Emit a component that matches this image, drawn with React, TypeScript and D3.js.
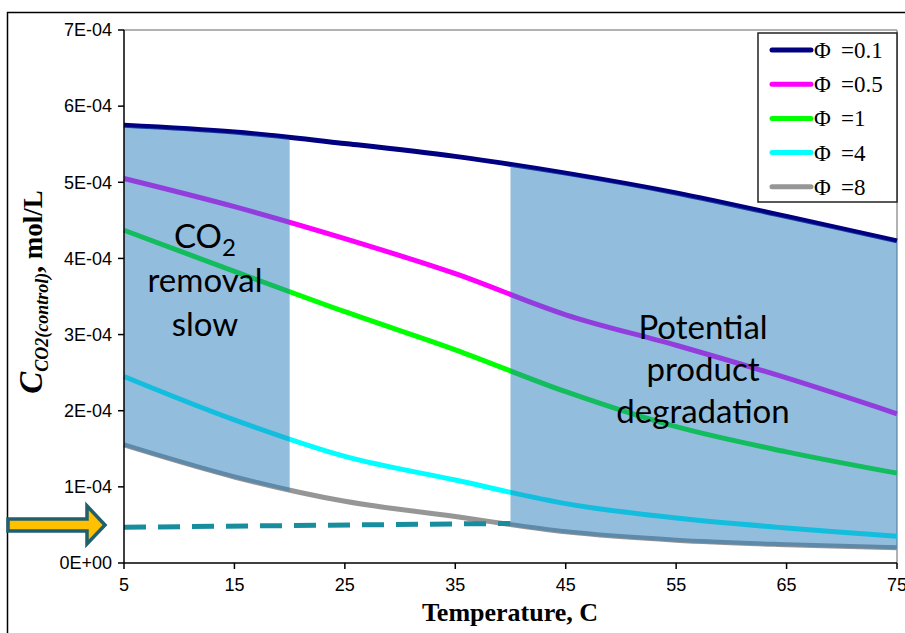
import * as d3 from "d3";
import React from "react";

// temperatures (C) on the x axis
const temps = [5, 15, 25, 35, 45, 55, 65, 75];

// C_CO2(control), mol/L
const phi01 = [5.75e-4, 5.66e-4, 5.51e-4, 5.34e-4, 5.12e-4, 4.86e-4, 4.55e-4, 4.23e-4];
const phi05 = [5.05e-4, 4.68e-4, 4.26e-4, 3.8e-4, 3.26e-4, 2.86e-4, 2.43e-4, 1.96e-4];
const phi1 = [4.37e-4, 3.83e-4, 3.3e-4, 2.8e-4, 2.25e-4, 1.79e-4, 1.46e-4, 1.18e-4];
const phi4 = [2.45e-4, 1.88e-4, 1.4e-4, 1.09e-4, 0.78e-4, 0.59e-4, 0.46e-4, 0.35e-4];
const phi8 = [1.55e-4, 1.13e-4, 0.81e-4, 0.61e-4, 0.41e-4, 0.3e-4, 0.24e-4, 0.2e-4];

// dashed reference line (x, value)
const dashedTemps = [5, 40];
const dashedValues = [0.47e-4, 0.52e-4];
const arrowLevel = 0.5e-4;

const legendLabels = ["0.1", "0.5", "1", "4", "8"];
const seriesColors = ["#000080", "#ff00ff", "#00ff00", "#00ffff", "#969696"];

const yTicks = [0, 1e-4, 2e-4, 3e-4, 4e-4, 5e-4, 6e-4, 7e-4];
const yTickLabels = ["0E+00", "1E-04", "2E-04", "3E-04", "4E-04", "5E-04", "6E-04", "7E-04"];

// shaded temperature ranges
const shadeRanges = [
  [5, 20],
  [40, 75],
];

const W = 905;
const H = 633;
const margin = { top: 30, right: 8, bottom: 70, left: 124 };

export default function App() {
  const x = d3.scaleLinear().domain([5, 75]).range([margin.left, W - margin.right]);
  const y = d3.scaleLinear().domain([0, 7e-4]).range([H - margin.bottom, margin.top]);

  const allSeries = [phi01, phi05, phi1, phi4, phi8];

  const line = d3
    .line<number>()
    .x((_, i) => x(temps[i]))
    .y((d) => y(d))
    .curve(d3.curveCardinal);

  const shade = d3
    .area<number>()
    .x((_, i) => x(temps[i]))
    .y0((_, i) => y(phi8[i]) + 1.5)
    .y1((_, i) => y(phi01[i]) + 1.5)
    .curve(d3.curveCardinal);

  const dashed = d3
    .line<number>()
    .x((_, i) => x(dashedTemps[i]))
    .y((d) => y(d));

  const x0 = x(5);
  const x1 = x(75);
  const yb = y(0);
  const yt = y(7e-4);

  const ay = y(arrowLevel);

  const serif = "'Liberation Serif', 'Times New Roman', serif";
  const sans = "'Liberation Sans', Arial, sans-serif";
  const gill = "Lato, 'Open Sans', sans-serif";

  return (
    <svg
      width={W}
      height={H}
      style={{ position: "absolute", left: 0, top: 0, background: "#fff" }}
    >
      <defs>
        {shadeRanges.map((r, i) => (
          <clipPath id={`shade-${i}`} key={i}>
            <rect x={x(r[0])} y={0} width={x(r[1]) - x(r[0])} height={H} />
          </clipPath>
        ))}
      </defs>

      {/* outer frame */}
      <rect x={7.5} y={12.5} width={W + 20} height={H + 20} fill="none" stroke="#000" strokeWidth={1.5} />

      {/* plot frame */}
      <line x1={x0} x2={x1} y1={yt} y2={yt} stroke="#999" strokeWidth={1.5} />
      <line x1={x1} x2={x1} y1={yt} y2={yb} stroke="#999" strokeWidth={1.5} />

      {/* series */}
      {allSeries.map((s, i) => (
        <path key={i} d={line(s) || ""} fill="none" stroke={seriesColors[i]} strokeWidth={5} />
      ))}

      {/* shaded regions */}
      {shadeRanges.map((_, i) => (
        <path
          key={i}
          d={shade(phi01) || ""}
          fill="rgb(37,124,187)"
          fillOpacity={0.5}
          clipPath={`url(#shade-${i})`}
        />
      ))}

      {/* dashed level */}
      <path
        d={dashed(dashedValues) || ""}
        fill="none"
        stroke="#178d9e"
        strokeWidth={5}
        strokeDasharray="22 12"
      />

      {/* arrow */}
      <path
        d={`M8,${ay - 6} L87,${ay - 6} L87,${ay - 19} L105,${ay} L87,${ay + 19} L87,${ay + 6} L8,${ay + 6} Z`}
        fill="#ffc000"
        stroke="#1f5f6e"
        strokeWidth={3.5}
        strokeLinejoin="miter"
      />

      {/* axes */}
      <line x1={x0} x2={x0} y1={yt} y2={yb} stroke="#000" strokeWidth={1.5} />
      <line x1={x0} x2={x1} y1={yb} y2={yb} stroke="#000" strokeWidth={1.5} />
      {yTicks.map((t, i) => (
        <g key={i}>
          <line x1={x0 - 6} x2={x0} y1={y(t)} y2={y(t)} stroke="#000" strokeWidth={1.5} />
          <text
            x={x0 - 12}
            y={y(t)}
            dy="0.35em"
            textAnchor="end"
            fontFamily={sans}
            fontSize={18}
            fill="#000"
          >
            {yTickLabels[i]}
          </text>
        </g>
      ))}
      {temps.map((t) => (
        <g key={t}>
          <line x1={x(t)} x2={x(t)} y1={yb} y2={yb + 6} stroke="#000" strokeWidth={1.5} />
          <text x={x(t)} y={yb + 28} textAnchor="middle" fontFamily={sans} fontSize={18} fill="#000">
            {t}
          </text>
        </g>
      ))}

      {/* axis titles */}
      <text x={510} y={621} textAnchor="middle" fontFamily={serif} fontWeight="bold" fontSize={26}>
        Temperature, C
      </text>
      <text
        transform="translate(42,292) rotate(-90)"
        textAnchor="middle"
        fontFamily={serif}
        fontWeight="bold"
      >
        <tspan fontStyle="italic" fontSize={33}>C</tspan>
        <tspan fontStyle="italic" fontSize={18} dy={6}>CO2(control)</tspan>
        <tspan fontSize={27} dy={-6}>, mol/L</tspan>
      </text>

      {/* annotations */}
      <g fontFamily={gill} fontSize={33} fill="#000" textAnchor="middle">
        <text x={205} y={248}>
          CO<tspan fontSize={24} dy={8}>2</tspan>
        </text>
        <text x={205} y={292}>removal</text>
        <text x={205} y={336}>slow</text>
        <text x={703} y={339}>Potential</text>
        <text x={703} y={381}>product</text>
        <text x={703} y={423}>degradation</text>
      </g>

      {/* legend */}
      <rect x={758} y={33} width={139} height={169} fill="#fff" stroke="#222" strokeWidth={1.5} />
      {legendLabels.map((l, i) => {
        const ly = 50 + i * 34.2;
        return (
          <g key={l}>
            <line
              x1={772}
              x2={811}
              y1={ly}
              y2={ly}
              stroke={seriesColors[i]}
              strokeWidth={5}
              strokeLinecap="round"
            />
            <text y={ly} dy="0.35em" fontFamily={serif} fontSize={23}>
              <tspan x={814}>Φ</tspan>
              <tspan x={841}>={l}</tspan>
            </text>
          </g>
        );
      })}
    </svg>
  );
}
